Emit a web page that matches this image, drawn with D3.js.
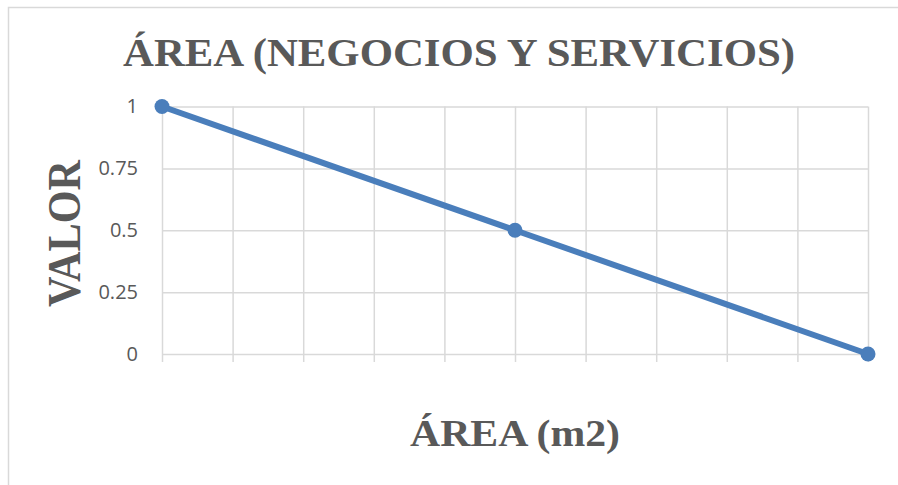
<!DOCTYPE html>
<html>
<head>
<meta charset="utf-8">
<script src="https://cdn.jsdelivr.net/npm/d3@7"></script>
<style>
  html, body { margin: 0; padding: 0; background: #fff; }
  svg { display: block; }
</style>
</head>
<body>
<div id="chart"></div>
<script>
// data
var xValues = [0, 5, 10];
var yValues = [1, 0.5, 0];
var xTicks = [0, 1, 2, 3, 4, 5, 6, 7, 8, 9, 10];
var yTicks = [0, 0.25, 0.5, 0.75, 1];
var yTickLabels = ["0", "0.25", "0.5", "0.75", "1"];
var chartTitle = "ÁREA (NEGOCIOS Y SERVICIOS)";
var xTitle = "ÁREA (m2)";
var yTitle = "VALOR";

var width = 898, height = 485;
var grey = "#595959", gridColor = "#d9d9d9", lineColor = "#4a7ebb";

var svg = d3.select("#chart").append("svg")
    .attr("width", width)
    .attr("height", height);

// chart border
svg.append("rect")
    .attr("x", 8.5).attr("y", 7.5)
    .attr("width", 900).attr("height", 490)
    .attr("fill", "none")
    .attr("stroke", gridColor)
    .attr("stroke-width", 1.5);

var x = d3.scaleLinear().domain([0, 10]).range([162, 868]);
var y = d3.scaleLinear().domain([0, 1]).range([354, 106.5]);

// horizontal grid
svg.append("g")
    .attr("transform", "translate(162,0)")
    .call(d3.axisLeft(y).tickValues(yTicks).tickSize(-(868 - 162)).tickFormat(""))
    .call(function (g) {
        g.select(".domain").remove();
        g.selectAll("line").attr("stroke", gridColor).attr("stroke-width", 1.5);
    });

// vertical grid, running a little below the axis as tick marks
svg.append("g")
    .attr("transform", "translate(0,362)")
    .call(d3.axisBottom(x).tickValues(xTicks).tickSize(-(362 - 106.5)).tickFormat(""))
    .call(function (g) {
        g.select(".domain").remove();
        g.selectAll("line").attr("stroke", gridColor).attr("stroke-width", 1.5);
    });

// y tick labels
svg.append("g")
    .attr("transform", "translate(162,0)")
    .call(d3.axisLeft(y).tickValues(yTicks).tickSize(0).tickPadding(24)
        .tickFormat(function (d, i) { return yTickLabels[i]; }))
    .call(function (g) {
        g.select(".domain").remove();
        g.selectAll("text")
            .attr("fill", grey)
            .style("font-family", "'Open Sans', 'Liberation Sans', sans-serif")
            .style("font-size", "20px");
    });

// line and markers
var pts = xValues.map(function (d, i) { return [d, yValues[i]]; });

svg.append("path")
    .datum(pts)
    .attr("fill", "none")
    .attr("stroke", lineColor)
    .attr("stroke-width", 6)
    .attr("stroke-linecap", "round")
    .attr("d", d3.line().x(function (d) { return x(d[0]); }).y(function (d) { return y(d[1]); }));

svg.selectAll("circle.pt")
    .data(pts)
    .enter().append("circle")
    .attr("class", "pt")
    .attr("cx", function (d) { return x(d[0]); })
    .attr("cy", function (d) { return y(d[1]); })
    .attr("r", 7.5)
    .attr("fill", lineColor);

// titles
var serif = "'Liberation Serif', 'DejaVu Serif', serif";

svg.append("text")
    .attr("x", 459).attr("y", 66)
    .attr("text-anchor", "middle")
    .attr("textLength", 672)
    .attr("lengthAdjust", "spacingAndGlyphs")
    .attr("fill", grey)
    .style("font-family", serif)
    .style("font-weight", "bold")
    .style("font-size", "40px")
    .text(chartTitle);

svg.append("text")
    .attr("x", 515).attr("y", 446)
    .attr("text-anchor", "middle")
    .attr("textLength", 210)
    .attr("lengthAdjust", "spacingAndGlyphs")
    .attr("fill", grey)
    .style("font-family", serif)
    .style("font-weight", "bold")
    .style("font-size", "38px")
    .text(xTitle);

svg.append("text")
    .attr("transform", "translate(80,233.5) scale(1.15,1) rotate(-90)")
    .attr("text-anchor", "middle")
    .attr("textLength", 147)
    .attr("lengthAdjust", "spacingAndGlyphs")
    .attr("fill", grey)
    .style("font-family", serif)
    .style("font-weight", "bold")
    .style("font-size", "40px")
    .text(yTitle);
</script>
</body>
</html>
